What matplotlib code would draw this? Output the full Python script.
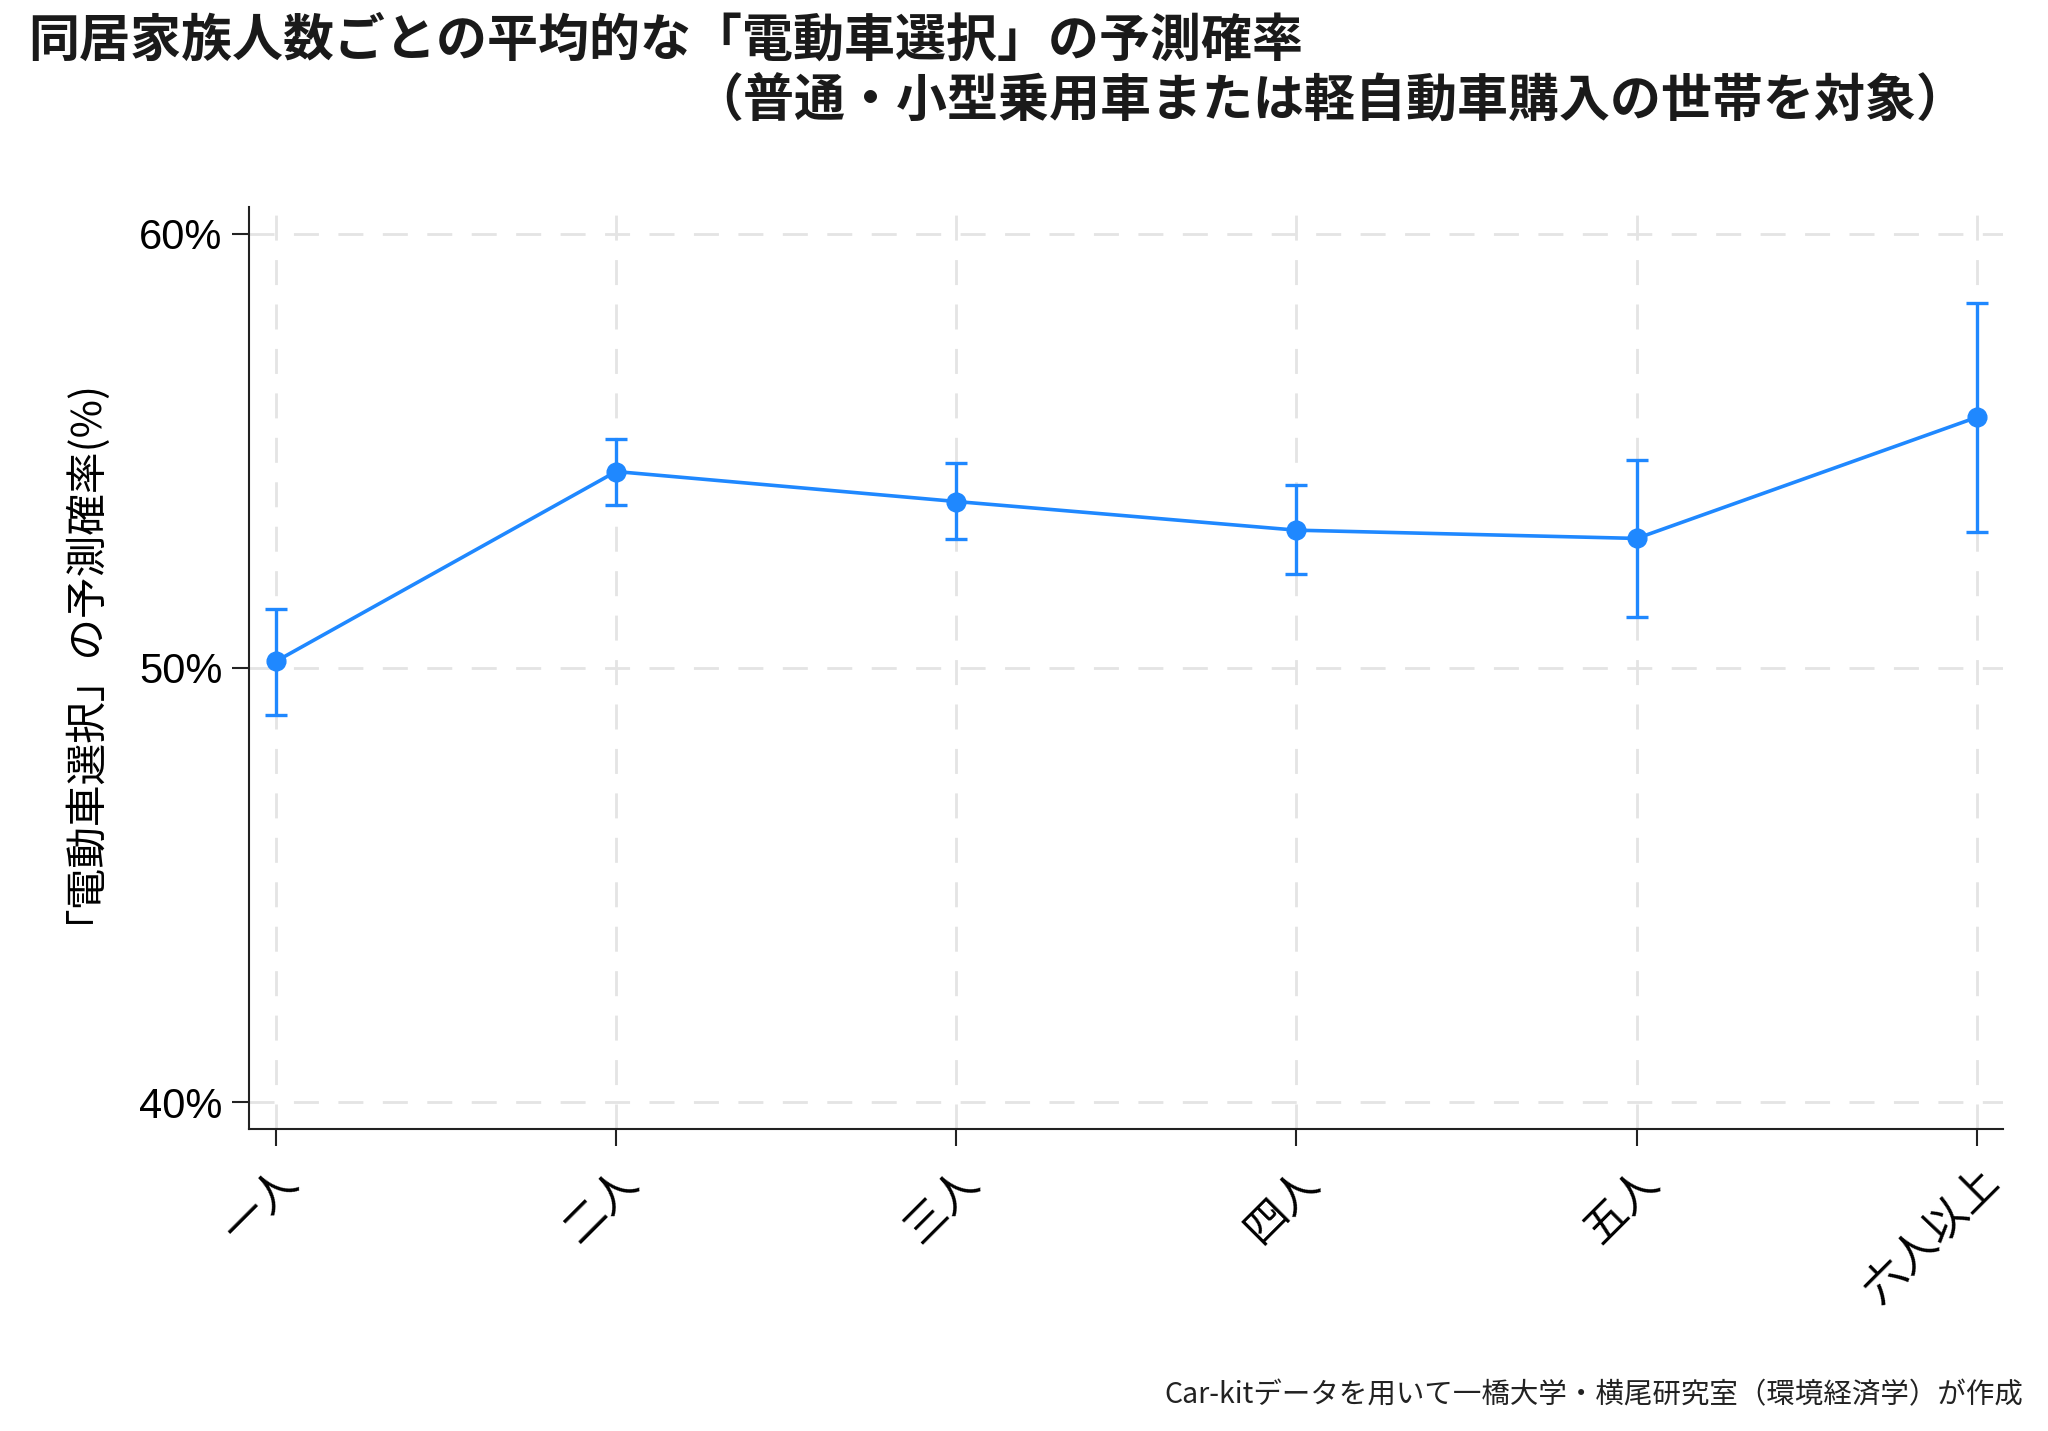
import matplotlib
matplotlib.use('Agg')
import matplotlib.pyplot as plt
from matplotlib.ticker import FuncFormatter

plt.rcParams['font.family'] = ['Noto Sans CJK JP', 'DejaVu Sans']

# household size categories and predicted probability (%)
categories = ['一人', '二人', '三人', '四人', '五人', '六人以上']
prob = [50.15, 54.52, 53.83, 53.17, 52.98, 55.77]
ci_low = [48.92, 53.76, 52.97, 52.16, 51.16, 53.13]
ci_high = [51.35, 55.27, 54.72, 54.21, 54.79, 58.40]
yticks = [40, 50, 60]

title_1 = '同居家族人数ごとの平均的な「電動車選択」の予測確率'
title_2 = '（普通・小型乗用車または軽自動車購入の世帯を対象）'
ylabel = '「電動車選択」の予測確率(%)'
note = 'Car-kitデータを用いて一橋大学・横尾研究室（環境経済学）が作成'

color = '#1f88ff'

fig = plt.figure(figsize=(20.48, 14.31), dpi=100)
ax = fig.add_axes([0.1216, 0.2110, 0.8563, 0.6446])

x = list(range(len(categories)))
err_lo = [p - l for p, l in zip(prob, ci_low)]
err_hi = [h - p for p, h in zip(prob, ci_high)]

ax.errorbar(x, prob, yerr=[err_lo, err_hi], color=color, linewidth=2.6,
            marker='o', markersize=13.5, capsize=8, capthick=2.4,
            elinewidth=2.4, zorder=3)

ax.set_xlim(-0.079, 5.076)
ax.set_ylim(39.38, 60.62)
ax.set_yticks(yticks)
ax.yaxis.set_major_formatter(FuncFormatter(lambda v, pos: f'{v:.0f}%'))
ax.set_xticks(x)
ax.set_xticklabels(categories, rotation=45, ha='right', rotation_mode='anchor',
                   fontsize=31)
for lab in ax.get_yticklabels():
    lab.set_family(['Liberation Sans', 'DejaVu Sans'])
    lab.set_fontsize(30)

ax.tick_params(axis='both', length=12, width=1.5, color='#222222')
ax.tick_params(axis='y', pad=7)
ax.tick_params(axis='x', pad=10)

ax.grid(True, color='#e4e4e4', linewidth=2.0, linestyle=(0, (9, 7)), zorder=0)
for side in ['top', 'right']:
    ax.spines[side].set_visible(False)
for side in ['left', 'bottom']:
    ax.spines[side].set_linewidth(1.5)
    ax.spines[side].set_color('#222222')

ax.set_ylabel(ylabel, fontsize=30)
ax.yaxis.set_label_coords(-0.094, 0.53)

fig.text(0.014, 0.971, title_1, fontsize=36.7, fontweight='bold', ha='left',
         va='center', color='#1a1a1a')
fig.text(0.338, 0.929, title_2, fontsize=36.7, fontweight='bold', ha='left',
         va='center', color='#1a1a1a')
fig.text(0.988, 0.025, note, fontsize=20.5, ha='right', va='center',
         color='#222222')

fig.savefig('out.png', dpi=100)
